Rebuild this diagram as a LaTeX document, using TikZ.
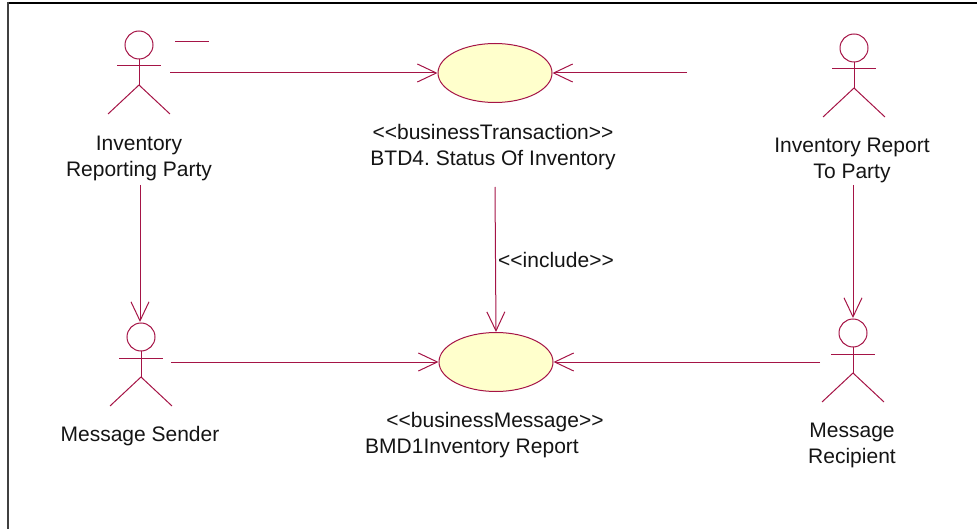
\documentclass[tikz,border=0pt]{standalone}
\usepackage{fontspec}
\setmainfont{Liberation Sans}[Ligatures=TeXOff]
\usetikzlibrary{shapes.geometric,arrows.meta}
\definecolor{umlline}{RGB}{165,20,70}
\definecolor{ucfill}{RGB}{255,255,204}
\definecolor{txt}{RGB}{20,20,20}
\frenchspacing
\tikzset{
  conn/.style={draw=umlline,line width=1pt,-{Straight Barb[length=19pt,width=18pt,line width=1pt]}},
  uc/.style={ellipse,draw=umlline,fill=ucfill,line width=1pt,minimum width=114pt,minimum height=59pt,inner sep=0pt},
  lbl/.style={text=txt,align=center,font=\fontsize{21}{26}\selectfont,inner sep=0pt},
  actorline/.style={draw=umlline,line width=1pt},
  actor/.pic={
    \draw[actorline] (0,0) circle (14pt);
    \draw[actorline] (0,14)--(0,40);
    \draw[actorline] (-22,21)--(22,21);
    \draw[actorline] (-31,69)--(0,40)--(31,69);
  }
}
\begin{document}
\begin{tikzpicture}[x=1pt,y=-1pt]
\useasboundingbox (0,0) rectangle (977,529);
% frame
\draw[black,line width=2pt] (7,3)--(977,3);
\draw[black!75,line width=2pt] (7.5,2)--(7.5,529);
% actors
\pic at (139,45) {actor};
\pic at (141,337) {actor};
\pic at (854,48) {actor};
\pic at (853,333) {actor};
\draw[actorline] (175,42)--(209,42);
% use cases
\node[uc] (bt) at (495,73) {};
\node[uc] (bm) at (496,362) {};
% labels
\node[lbl] (l1) at (139,158) {Inventory\\Reporting Party};
\node[lbl] (lbt) at (493,147) {<<businessTransaction>>\\BTD4. Status Of Inventory};
\node[lbl] (l3) at (852,160) {Inventory Report\\To Party};
\node[lbl,anchor=west] (linc) at (498,260) {<<include>>};
\node[lbl] (l2) at (140,436) {Message Sender};
\node[lbl] (lbm1) at (495,422) {<<businessMessage>>};
\node[lbl] (lbm2) at (472,448) {BMD1Inventory Report};
\node[lbl] (l4) at (852,445.5) {Message\\Recipient};
% connector end points
\coordinate (a1s) at (170,73);
\coordinate (a2s) at (687,73);
\coordinate (a3s) at (140,185);
\coordinate (a3e) at (140,322);
\coordinate (a4s) at (171,362);
\coordinate (a5s) at (820,362);
\coordinate (a6s) at (853,185);
\coordinate (a6e) at (853,318);
\coordinate (a7s) at (495,187);
% connectors
\draw[conn] (a1s) -- (bt.west);
\draw[conn] (a2s) -- (bt.east);
\draw[conn] (a3s) -- (a3e);
\draw[conn] (a4s) -- (bm.west);
\draw[conn] (a5s) -- (bm.east);
\draw[conn] (a6s) -- (a6e);
\draw[conn] (a7s) -- (bm.north);
\end{tikzpicture}
\end{document}
